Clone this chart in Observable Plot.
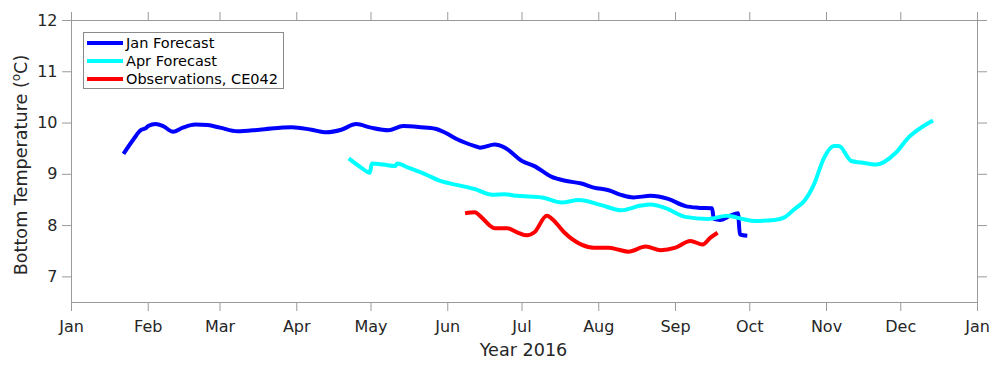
<!DOCTYPE html>
<html>
<head>
<meta charset="utf-8">
<script src="https://cdn.jsdelivr.net/npm/d3@7"></script>
<script src="https://cdn.jsdelivr.net/npm/@observablehq/plot@0.6"></script>
<style>
  html, body { margin: 0; padding: 0; background: white; }
  #chart { position: relative; width: 1000px; height: 369px; }
</style>
</head>
<body>
<div id="chart"></div>
<script>
// ---- Data ----
const janDates = ["2016-01-22","2016-01-26","2016-01-29","2016-01-31","2016-02-01","2016-02-04","2016-02-07","2016-02-11","2016-02-15","2016-02-20","2016-02-25","2016-03-01","2016-03-08","2016-03-17","2016-03-30","2016-04-07","2016-04-13","2016-04-19","2016-04-25","2016-05-01","2016-05-08","2016-05-14","2016-05-21","2016-05-27","2016-05-31","2016-06-05","2016-06-12","2016-06-14","2016-06-20","2016-06-24","2016-07-01","2016-07-06","2016-07-13","2016-07-19","2016-07-25","2016-07-30","2016-08-05","2016-08-10","2016-08-15","2016-08-22","2016-08-29","2016-09-05","2016-09-10","2016-09-15T18:00","2016-09-16T12:00","2016-09-19","2016-09-23","2016-09-26T06:00","2016-09-27T00:00","2016-09-30"];
const janTemps = [9.40,9.68,9.86,9.90,9.94,9.98,9.94,9.83,9.91,9.97,9.96,9.91,9.84,9.87,9.92,9.87,9.82,9.87,9.98,9.91,9.86,9.94,9.92,9.89,9.81,9.68,9.55,9.52,9.58,9.52,9.26,9.16,8.95,8.87,8.82,8.74,8.69,8.60,8.55,8.58,8.52,8.38,8.35,8.34,8.13,8.11,8.19,8.24,7.83,7.80];

const aprDates = ["2016-04-22","2016-04-27","2016-04-30T12:00","2016-05-01T08:00","2016-05-06","2016-05-10T16:00","2016-05-11T16:00","2016-05-16","2016-05-23","2016-05-29","2016-06-05","2016-06-12","2016-06-19","2016-06-24","2016-06-29","2016-07-09","2016-07-17","2016-07-24","2016-08-02","2016-08-10","2016-08-18","2016-08-22","2016-08-28","2016-09-05","2016-09-14","2016-09-22","2016-09-28","2016-10-03","2016-10-11","2016-10-15","2016-10-19","2016-10-23","2016-10-27","2016-10-31","2016-11-04","2016-11-06","2016-11-11","2016-11-15","2016-11-21","2016-11-29","2016-12-04","2016-12-08","2016-12-14"];
const aprTemps = [9.31,9.13,9.03,9.21,9.19,9.16,9.21,9.13,9.00,8.87,8.79,8.71,8.60,8.61,8.58,8.55,8.45,8.50,8.40,8.30,8.39,8.41,8.34,8.17,8.13,8.19,8.13,8.09,8.11,8.16,8.32,8.48,8.81,9.32,9.55,9.55,9.26,9.23,9.19,9.42,9.71,9.87,10.05];

const obsDates = ["2016-06-08","2016-06-12","2016-06-14","2016-06-20","2016-06-25","2016-06-29","2016-07-03","2016-07-06","2016-07-11","2016-07-14","2016-07-18","2016-07-25","2016-07-30","2016-08-05","2016-08-09","2016-08-13","2016-08-20","2016-08-26","2016-09-01","2016-09-07","2016-09-12","2016-09-15","2016-09-18"];
const obsTemps = [8.24,8.26,8.19,7.95,7.95,7.87,7.81,7.87,8.19,8.09,7.87,7.63,7.57,7.57,7.53,7.49,7.59,7.52,7.57,7.70,7.63,7.76,7.86];

const seriesNames = ["Jan Forecast", "Apr Forecast", "Observations, CE042"];
const seriesColors = ["#0000ff", "#00ffff", "#ff0000"];

const monthTicks = ["2016-01-01","2016-02-01","2016-03-01","2016-04-01","2016-05-01","2016-06-01","2016-07-01","2016-08-01","2016-09-01","2016-10-01","2016-11-01","2016-12-01","2017-01-01"];
const monthLabels = ["Jan","Feb","Mar","Apr","May","Jun","Jul","Aug","Sep","Oct","Nov","Dec","Jan"];
const yTicks = [7, 8, 9, 10, 11, 12];
const yTickLabels = ["7", "8", "9", "10", "11", "12"];
const xDomain = ["2016-01-01", "2017-01-01"];
const yDomain = [6.5, 12];

// ---- Build tables ----
const toRows = (dates, temps, name) => dates.map((d, i) => ({date: new Date(d.length === 10 ? d + "T00:00:00Z" : d + "Z"), temp: temps[i], series: name}));
const rows = [
  ...toRows(janDates, janTemps, seriesNames[0]),
  ...toRows(aprDates, aprTemps, seriesNames[1]),
  ...toRows(obsDates, obsTemps, seriesNames[2])
];
const tickDates = monthTicks.map(d => new Date(d + "T00:00:00Z"));
const fmtMonth = d => monthLabels[tickDates.findIndex(t => +t === +d)];
const fmtY = d => yTickLabels[yTicks.indexOf(d)];

const axisGray = "#9a9a9a";
const textCol = "#262626";

const chart = Plot.plot({
  width: 1000,
  height: 369,
  marginLeft: 71,
  marginRight: 23,
  marginTop: 20,
  marginBottom: 67,
  style: {fontFamily: "DejaVu Sans", fontSize: "16px", color: textCol, background: "white", overflow: "visible"},
  x: {type: "utc", domain: xDomain.map(d => new Date(d + "T00:00:00Z"))},
  y: {domain: yDomain},
  color: {domain: seriesNames, range: seriesColors},
  marks: [
    Plot.axisX({anchor: "bottom", ticks: tickDates, tickFormat: fmtMonth, tickSize: 9, tickPadding: 9, stroke: axisGray, fill: textCol, label: null, fontSize: 16}),
    Plot.axisX({anchor: "top", ticks: tickDates, tickFormat: () => "", tickSize: 9, stroke: axisGray, label: null}),
    Plot.axisY({anchor: "left", ticks: yTicks, tickFormat: fmtY, tickSize: 9, tickPadding: 5, stroke: axisGray, fill: textCol, label: null, fontSize: 16}),
    Plot.axisY({anchor: "right", ticks: yTicks, tickFormat: () => "", tickSize: 9, stroke: axisGray, label: null}),
    Plot.frame({stroke: axisGray, strokeWidth: 1}),
    Plot.line(rows, {x: "date", y: "temp", z: "series", stroke: "series", strokeWidth: 4, curve: "monotone-x", strokeLinejoin: "round", strokeLinecap: "butt"})
  ]
});

document.getElementById("chart").appendChild(chart);

// ---- Axis titles and legend (text added as real SVG text) ----
const svg = d3.select(chart);
svg.append("text")
  .attr("x", 523.5).attr("y", 356)
  .attr("text-anchor", "middle")
  .attr("font-family", "DejaVu Sans").attr("font-size", 17.6).attr("fill", textCol)
  .text("Year 2016");

const yl = svg.append("text")
  .attr("transform", "translate(27,165) rotate(-90)")
  .attr("text-anchor", "middle")
  .attr("font-family", "DejaVu Sans").attr("font-size", 17.6).attr("fill", textCol);
yl.append("tspan").text("Bottom Temperature (");
yl.append("tspan").attr("font-size", 12).attr("dy", -7).text("o");
yl.append("tspan").attr("dy", 7).text("C)");

const lg = svg.append("g");
lg.append("rect").attr("x", 83.5).attr("y", 32.5).attr("width", 200).attr("height", 56)
  .attr("fill", "white").attr("stroke", "#8a8a8a").attr("stroke-width", 1);
seriesNames.forEach((name, i) => {
  const yy = 43 + i * 18;
  lg.append("line").attr("x1", 87).attr("x2", 123).attr("y1", yy).attr("y2", yy)
    .attr("stroke", seriesColors[i]).attr("stroke-width", 4);
  lg.append("text").attr("x", 126).attr("y", yy + 5)
    .attr("text-anchor", "start")
    .attr("font-family", "DejaVu Sans").attr("font-size", 14.5).attr("fill", "#000")
    .text(name);
});
</script>
</body>
</html>
